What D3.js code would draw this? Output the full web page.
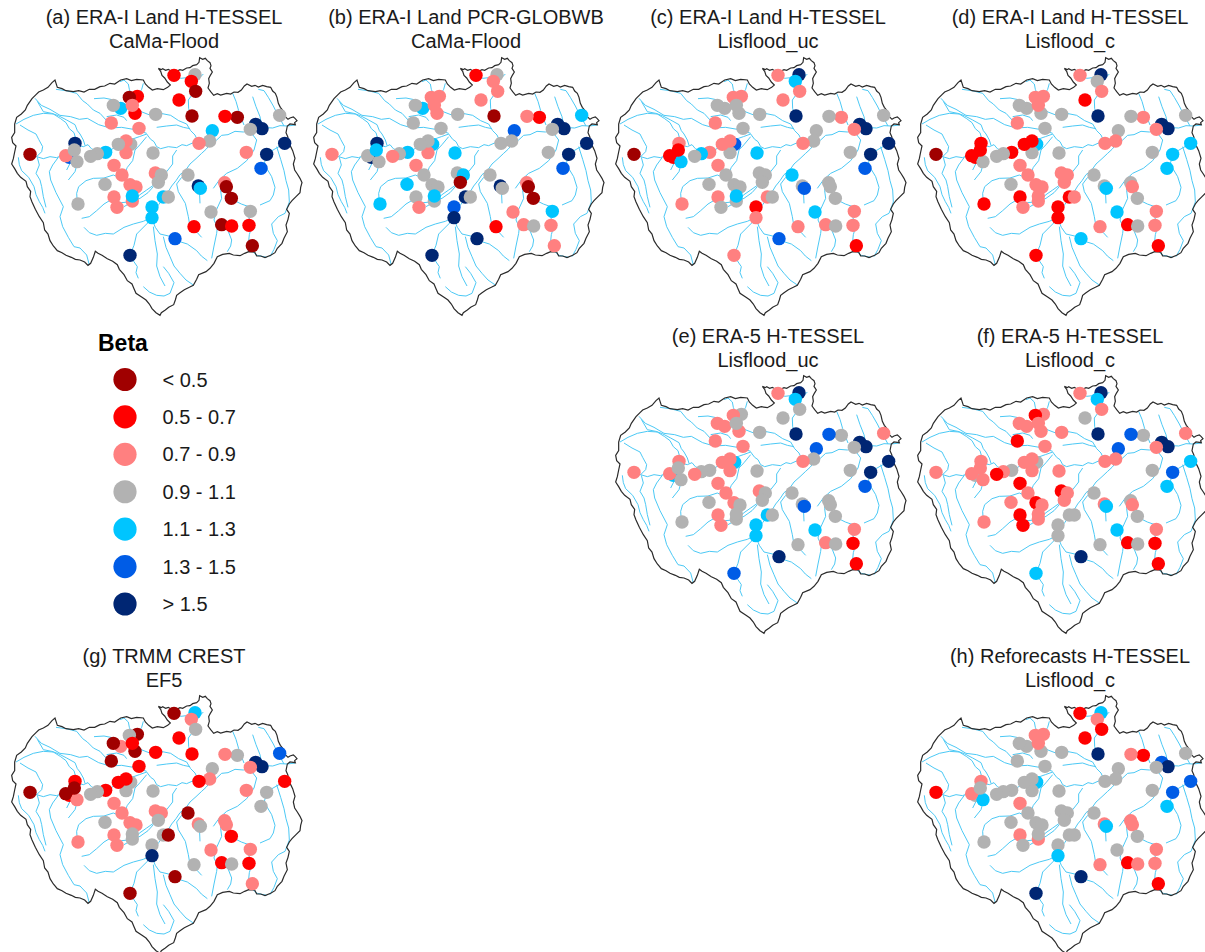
<!DOCTYPE html>
<html>
<head>
<meta charset="utf-8">
<style>
  html, body { margin: 0; background: #fff; }
  svg { display: block; font-family: "Liberation Sans", Arial, sans-serif; }
  text { fill: #1a1a1a; }
</style>
</head>
<body>
<div id="chart"></div>
<script src="https://cdnjs.cloudflare.com/ajax/libs/d3/7.8.5/d3.min.js"></script>
<script>
const width = 1205,
  height = 952;

// beta classes
const classBreaks = [0.5, 0.7, 0.9, 1.1, 1.3, 1.5];
const classColors = ['#a00000', '#ff0000', '#ff8080', '#b2b2b2', '#00c5ff', '#005ce6', '#002673'];
const classLabels = ['< 0.5', '0.5 - 0.7', '0.7 - 0.9', '0.9 - 1.1', '1.1 - 1.3', '1.3 - 1.5', '> 1.5'];
const legendBeta = [0.4, 0.6, 0.8, 1.0, 1.2, 1.4, 1.6];

// gauge stations, map sheet coordinates (east, south)
const stationEast = [
  522, 585, 574, 587, 537, 576,
  362, 340, 412, 388, 405, 397, 334, 417, 467,
  392, 378, 378, 355, 317, 292, 272, 459,
  90, 225, 208, 231, 197, 223,
  342, 366, 315, 390, 408, 342, 351, 397, 397, 234,
  466, 484, 475, 490, 505, 456, 456,
  564, 595, 601, 633, 582, 665, 695, 747, 751, 757,
  525, 390, 674, 679, 694,
  739, 783, 800, 854, 839, 767, 786, 751, 712, 675, 637, 629, 597
];
const stationSouth = [
  226, 224, 244, 274, 300, 348,
  325, 316, 289, 292, 340, 316, 369, 385, 343,
  433, 458, 423, 433, 457, 461, 469, 459,
  463, 430, 472, 485, 467, 450,
  496, 525, 553, 554, 561, 591, 622, 603, 588, 612,
  519, 525, 547, 591, 591, 621, 653,
  525, 558, 565, 636, 680, 674, 678, 676, 634, 737,
  716, 766, 548, 560, 595,
  457, 505, 463, 430, 346, 373, 386, 388, 352, 349, 392, 423, 430
];

// beta per station (class middle)
const betaA = [
  0.6, 1.0, 0.6, 0.4, 0.6, 0.4,
  1.2, 1.0, 0.6, 0.4, 0.6, 0.8, 0.8, 0.8, 1.0,
  1.0, 0.8, 0.8, 1.0, 1.2, 1.0, 1.0, 1.0,
  0.4, 1.6, 1.4, 1.0, 0.8, 1.0,
  0.8, 0.8, 1.0, 0.8, 0.8, 0.8, 0.8, 0.8, 1.2, 1.0,
  0.8, 1.0, 1.0, 1.2, 1.0, 1.2, 1.2,
  1.0, 1.6, 1.2, 1.0, 0.6, 0.4, 0.6, 0.6, 1.0, 0.4,
  1.4, 1.6, 0.8, 0.4, 0.4,
  0.8, 1.4, 1.6, 1.6, 1.0, 1.6, 1.6, 1.0, 0.4, 0.6, 1.2, 1.0, 0.8
];
const betaB = [
  0.6, 1.0, 0.8, 0.8, 0.8, 0.4,
  1.2, 1.0, 0.8, 0.8, 0.8, 0.8, 1.0, 1.0, 1.0,
  1.2, 0.8, 1.0, 1.0, 1.2, 1.0, 0.8, 1.2,
  0.8, 1.6, 1.6, 1.0, 1.0, 1.2,
  0.8, 1.0, 1.2, 1.0, 1.0, 1.0, 0.8, 1.0, 1.2, 1.2,
  1.0, 1.2, 0.4, 1.6, 1.0, 1.4, 1.6,
  1.0, 1.6, 1.0, 0.8, 0.6, 0.8, 1.0, 0.8, 1.2, 0.8,
  1.6, 1.6, 0.8, 0.4, 0.4,
  1.0, 1.4, 1.6, 1.6, 1.2, 1.6, 1.6, 1.0, 0.6, 0.8, 1.4, 1.0, 1.0
];
const betaC = [
  0.8, 1.6, 1.2, 0.8, 0.8, 1.6,
  1.0, 1.0, 0.8, 0.8, 1.0, 1.0, 0.8, 1.0, 1.0,
  1.4, 1.0, 0.8, 0.8, 0.8, 1.2, 1.0, 1.2,
  0.4, 0.8, 0.6, 1.2, 0.6, 0.6,
  0.8, 1.0, 1.0, 1.0, 1.0, 0.8, 1.0, 1.0, 1.2, 0.8,
  1.0, 1.0, 1.0, 0.8, 1.0, 0.6, 0.8,
  1.2, 1.0, 1.4, 1.2, 0.8, 0.8, 1.0, 0.8, 0.8, 0.6,
  1.4, 0.8, 1.0, 1.0, 1.0,
  1.0, 1.4, 1.6, 1.6, 1.0, 1.6, 1.6, 0.8, 0.8, 1.0, 1.0, 1.0, 0.8
];
const betaD = [
  0.8, 1.6, 1.0, 0.8, 0.6, 1.6,
  1.0, 1.0, 0.8, 0.8, 1.0, 0.8, 0.8, 1.0, 1.0,
  1.2, 1.0, 0.6, 0.6, 0.6, 1.0, 1.0, 1.0,
  0.4, 0.6, 0.6, 1.0, 0.6, 0.6,
  0.8, 0.8, 1.0, 0.8, 0.8, 0.6, 0.8, 0.8, 0.8, 0.6,
  0.8, 0.8, 0.8, 0.6, 0.8, 0.6, 0.6,
  1.0, 1.0, 1.2, 1.2, 0.8, 0.6, 1.0, 0.8, 0.8, 0.6,
  1.2, 0.6, 1.0, 0.8, 1.0,
  1.0, 1.2, 1.2, 1.2, 1.0, 1.6, 1.6, 0.8, 0.8, 1.0, 1.0, 0.8, 0.8
];
const betaE = [
  0.8, 1.6, 1.2, 1.0, 1.0, 1.6,
  0.8, 0.8, 1.0, 0.8, 0.8, 1.0, 0.8, 0.8, 1.0,
  1.2, 0.8, 0.8, 0.8, 1.0, 1.0, 0.8, 1.0,
  0.8, 0.8, 1.2, 1.0, 0.8, 1.0,
  0.8, 0.8, 1.0, 0.8, 1.0, 0.8, 0.8, 1.0, 1.0, 1.0,
  0.8, 1.0, 1.0, 1.2, 1.0, 1.2, 1.2,
  1.0, 1.0, 1.4, 1.2, 1.0, 0.8, 1.0, 0.6, 0.8, 0.6,
  1.6, 1.4, 1.0, 1.0, 1.0,
  1.0, 1.4, 1.6, 1.6, 0.8, 1.6, 1.6, 1.0, 1.0, 1.4, 1.4, 1.0, 0.8
];
const betaF = [
  0.8, 1.6, 1.2, 0.8, 1.0, 1.6,
  0.8, 0.8, 0.8, 0.6, 0.8, 0.8, 0.6, 0.8, 0.8,
  1.0, 0.8, 0.8, 0.8, 1.0, 0.8, 0.6, 0.8,
  0.8, 0.8, 1.0, 0.8, 0.8, 0.8,
  0.6, 0.8, 0.8, 0.6, 0.8, 0.6, 0.6, 0.8, 0.8, 0.8,
  0.6, 0.8, 0.8, 1.0, 1.0, 1.0, 1.0,
  1.0, 0.8, 1.2, 1.2, 1.0, 0.6, 1.0, 0.6, 0.8, 0.6,
  1.6, 1.2, 1.0, 0.8, 1.0,
  1.0, 1.2, 1.4, 1.2, 0.8, 1.6, 1.6, 0.8, 1.0, 1.4, 1.4, 0.8, 0.8
];
const betaG = [
  0.4, 1.2, 0.8, 1.0, 0.6, 0.6,
  0.8, 0.4, 0.4, 1.0, 0.4, 0.6, 0.4, 0.6, 0.6,
  1.0, 1.0, 0.6, 0.6, 0.6, 1.0, 1.0, 1.0,
  0.4, 0.6, 0.6, 0.8, 0.4, 0.4,
  0.8, 0.8, 1.0, 0.8, 0.8, 0.8, 0.8, 1.0, 1.0, 0.8,
  0.8, 0.8, 1.0, 1.0, 0.4, 1.0, 1.6,
  0.4, 0.8, 1.0, 0.8, 1.0, 0.6, 1.0, 0.6, 0.8, 0.8,
  0.4, 0.4, 0.8, 0.8, 0.6,
  0.8, 1.0, 1.0, 0.6, 1.4, 1.6, 1.6, 0.8, 1.0, 0.8, 1.0, 0.8, 0.6
];
const betaH = [
  0.6, 1.2, 0.8, 0.6, 0.6, 1.6,
  1.0, 1.0, 0.8, 0.8, 1.0, 0.8, 1.0, 1.0, 1.0,
  1.2, 1.0, 1.0, 1.0, 1.0, 1.0, 1.0, 1.0,
  0.6, 0.8, 1.0, 1.2, 0.8, 1.0,
  0.8, 1.0, 1.0, 1.0, 1.0, 0.8, 1.0, 0.8, 1.0, 1.0,
  1.0, 1.0, 1.0, 1.0, 1.0, 1.0, 1.2,
  1.0, 0.8, 1.2, 1.0, 0.8, 0.6, 0.8, 0.8, 0.8, 0.6,
  1.6, 1.6, 0.8, 0.8, 1.0,
  1.0, 1.2, 1.4, 1.4, 1.0, 1.4, 1.6, 1.0, 0.6, 0.8, 1.0, 1.0, 1.0
];

const panelNames = ['a', 'b', 'c', 'd', 'e', 'f', 'g', 'h'];
const panelTitles = [
  ['(a) ERA-I Land H-TESSEL', 'CaMa-Flood'],
  ['(b) ERA-I Land PCR-GLOBWB', 'CaMa-Flood'],
  ['(c) ERA-I Land H-TESSEL', 'Lisflood_uc'],
  ['(d) ERA-I Land H-TESSEL', 'Lisflood_c'],
  ['(e) ERA-5 H-TESSEL', 'Lisflood_uc'],
  ['(f) ERA-5 H-TESSEL', 'Lisflood_c'],
  ['(g) TRMM CREST', 'EF5'],
  ['(h) Reforecasts H-TESSEL', 'Lisflood_c']
];
const panelBeta = [betaA, betaB, betaC, betaD, betaE, betaF, betaG, betaH];
const panelCol = [0, 1, 2, 3, 2, 3, 0, 3];
const panelRow = [0, 0, 0, 0, 1, 1, 2, 2];

// basin boundary, map sheet coordinates
const basinOutline = [
  [475, 205], [484, 209], [488, 206], [497, 211], [505, 208], [512, 212], [522, 210], [530, 214], [540, 209], [548, 211], [560, 204], [570, 203], [578, 197], [590, 194], [597, 187], [599, 173],
  [608, 178], [616, 175], [622, 182], [630, 188], [633, 197], [630, 205], [637, 216], [631, 226], [626, 236], [628, 250], [624, 264], [632, 275], [641, 286], [652, 281], [662, 285],
  [680, 280], [692, 282], [702, 276], [714, 277], [724, 270], [733, 258], [741, 252], [755, 259], [765, 256], [775, 261], [788, 256], [800, 260], [812, 262], [818, 273], [826, 280], [831, 292],
  [835, 310], [841, 322], [850, 333], [856, 350], [864, 358], [870, 354], [880, 351], [885, 355], [891, 362], [884, 368], [886, 374], [870, 372], [862, 378], [858, 398], [864, 412], [862, 426],
  [872, 440], [878, 452], [885, 475], [880, 492], [884, 510], [892, 522], [900, 535], [906, 548], [902, 562], [900, 578], [888, 590], [876, 602], [868, 612], [860, 628], [868, 640], [864, 658],
  [858, 675], [862, 695], [852, 715], [846, 730], [832, 745], [825, 758], [812, 766], [795, 773], [782, 768], [770, 768], [764, 756], [746, 755], [734, 760], [720, 767], [700, 765],
  [688, 760], [668, 763], [652, 770], [642, 790], [630, 805], [618, 815], [596, 824], [590, 838], [580, 856], [568, 862], [553, 869], [540, 878], [530, 886], [526, 900], [521, 914],
  [506, 922], [496, 930], [484, 938], [480, 946], [468, 938], [456, 926], [448, 912], [438, 900], [426, 892], [408, 880], [402, 866], [396, 852], [382, 842], [372, 824], [358, 808], [352, 794],
  [338, 784], [322, 776], [306, 766], [294, 760], [286, 754], [280, 772], [272, 790], [264, 796], [254, 786], [240, 780], [226, 778], [214, 772], [198, 766], [186, 758], [172, 752], [160, 738], [150, 722],
  [144, 702], [134, 690], [130, 668], [118, 650], [106, 628], [96, 606], [90, 590], [92, 574], [82, 560], [78, 544], [62, 532], [52, 520], [44, 506], [35, 492], [40, 476], [44, 456], [48, 438],
  [38, 428], [35, 412], [44, 398], [44, 372], [50, 352], [64, 342], [76, 330], [82, 316], [96, 296], [108, 284], [116, 276], [130, 270], [144, 262], [156, 248], [165, 240], [172, 262], [186, 266],
  [198, 272], [220, 275], [236, 272], [252, 276], [268, 268], [284, 268], [300, 260], [314, 258], [330, 250], [344, 252], [362, 240], [380, 236], [394, 242], [410, 238], [430, 240], [436, 252], [446, 262],
  [457, 270], [472, 266], [490, 269], [503, 262], [511, 255], [502, 246], [494, 234], [486, 226], [482, 214], [475, 205]
];

const riverLines = [
  // main stem and mouth
  [[886, 375], [862, 378], [840, 377], [818, 384], [800, 383], [778, 390], [755, 390], [730, 396], [705, 394], [684, 404], [665, 406], [650, 420], [635, 428], [618, 448], [605, 460], [588, 476], [570, 492], [556, 512], [540, 524], [528, 542], [515, 558], [503, 578], [490, 594], [476, 614], [465, 628], [455, 655]],
  [[90, 463], [110, 470], [130, 476], [150, 470], [170, 473], [190, 464], [205, 460], [222, 446], [238, 437], [250, 440], [264, 434], [274, 446], [282, 450], [300, 448], [320, 456], [342, 444], [360, 440], [378, 426], [395, 418], [418, 410], [440, 402], [452, 418], [462, 425], [470, 440], [482, 446], [505, 440], [530, 443], [546, 434], [560, 437], [580, 428], [600, 430]],
  // north west
  [[105, 295], [124, 316], [150, 328], [180, 346], [212, 350], [238, 358], [262, 355], [296, 374], [330, 384], [365, 382], [400, 388], [422, 394], [440, 400]],
  [[112, 304], [130, 335], [155, 340], [175, 347], [200, 360], [225, 374], [232, 392], [240, 402], [250, 420], [255, 436]],
  [[168, 268], [198, 272], [230, 280], [248, 302], [262, 312], [280, 330], [300, 340], [320, 362], [340, 378]],
  [[48, 372], [72, 358], [100, 346], [130, 340], [160, 342], [182, 356], [198, 368], [208, 386], [222, 398], [226, 412], [228, 430]],
  [[60, 375], [84, 390], [108, 402], [116, 418], [128, 440], [125, 455], [110, 470]],
  [[282, 296], [312, 294], [342, 300], [372, 314], [400, 322], [426, 336], [452, 346], [482, 340], [512, 346], [536, 362], [560, 372], [572, 392], [585, 405], [592, 420], [600, 430]],
  [[360, 245], [372, 240], [385, 252], [388, 268], [395, 285]],
  [[430, 250], [425, 268], [412, 289]],
  [[470, 382], [500, 378], [530, 375], [550, 382], [570, 386]],
  [[320, 350], [350, 345], [372, 352], [380, 362]],
  // north notch
  [[522, 226], [542, 235], [560, 233], [575, 241], [590, 240], [600, 232], [610, 222]],
  [[574, 350], [566, 326], [565, 300], [578, 282], [590, 265]],
  // west side
  [[55, 472], [58, 494], [65, 512], [86, 532], [102, 560], [108, 584], [118, 605], [128, 622], [135, 640]],
  [[112, 472], [118, 495], [108, 520], [120, 540], [125, 560], [130, 590], [138, 622]],
  [[175, 472], [158, 495], [148, 515], [152, 540], [168, 578], [190, 620], [180, 650], [188, 680], [205, 712], [222, 740], [240, 744], [260, 765], [268, 795]],
  [[208, 472], [210, 490], [200, 510]],
  [[232, 490], [225, 515], [205, 540]],
  // central tributaries
  [[232, 610], [230, 580], [236, 560], [258, 542], [280, 535], [312, 534], [340, 525], [356, 532], [370, 530], [382, 502], [398, 482], [405, 450], [420, 434], [440, 410]],
  [[245, 655], [268, 650], [290, 632], [312, 612], [332, 600], [364, 608], [397, 605], [420, 584], [440, 570], [460, 556], [478, 540], [500, 515], [518, 492], [518, 468], [530, 450]],
  [[252, 682], [268, 698], [290, 706], [316, 700], [340, 702], [372, 682], [400, 672], [430, 664], [455, 652]],
  [[372, 620], [396, 606], [420, 595], [444, 578], [460, 560]],
  // south
  [[388, 770], [402, 736], [410, 702], [428, 684], [450, 662]],
  [[455, 655], [466, 682], [480, 702], [506, 708], [530, 722], [562, 732], [590, 752], [604, 768], [622, 782]],
  [[460, 680], [465, 722], [472, 762], [470, 798], [480, 830], [495, 858]],
  [[490, 710], [498, 742], [510, 770], [522, 798], [540, 820], [558, 840], [580, 855]],
  [[395, 775], [412, 800], [408, 818], [415, 835]],
  [[430, 860], [448, 876], [470, 886], [492, 888], [510, 880], [522, 848], [506, 820], [490, 800]],
  // east
  [[545, 532], [530, 552], [535, 575], [556, 610], [565, 650], [570, 680]],
  [[598, 565], [600, 610]],
  [[582, 680], [592, 698], [605, 712]],
  [[640, 565], [658, 540], [680, 520], [712, 505], [740, 482], [762, 450], [770, 420], [758, 404], [762, 388]],
  [[662, 550], [662, 572], [665, 595], [650, 628], [642, 660], [652, 682], [650, 700], [642, 738], [635, 775]],
  [[700, 600], [724, 612], [752, 622], [746, 650], [755, 680], [748, 704], [745, 732], [754, 752], [772, 766], [800, 772]],
  [[668, 680], [684, 692], [695, 720], [692, 738], [682, 755]],
  [[800, 505], [815, 530], [825, 562], [820, 585], [810, 602], [780, 615]],
  [[854, 430], [828, 445], [802, 460], [790, 500]],
  [[830, 440], [842, 478], [852, 512], [858, 542], [866, 570], [868, 606], [855, 640], [835, 650], [815, 672], [820, 700], [832, 722], [822, 748], [810, 770]],
  [[758, 290], [768, 320], [780, 350], [786, 382]],
  [[698, 280], [708, 304], [716, 332], [722, 350], [732, 375]],
  [[775, 268], [792, 272], [805, 292], [820, 318], [832, 342], [852, 378]]
];

const svg = d3.select('#chart').append('svg').attr('width', width).attr('height', height);

// one sheet unit is a third of a pixel
const sheetX = d3.scaleLinear().domain([0, 930]).range([0, 310]);
const sheetY = d3.scaleLinear().domain([0, 960]).range([0, 320]);
const colX = d3.scaleLinear().domain([0, 3]).range([0, 906]);
const rowY = d3.scaleOrdinal().domain([0, 1, 2]).range([0, 318, 638]);
const titleX = [164, 466, 768, 1070];
const titleY = [24, 343, 663];
const betaColor = d3.scaleThreshold().domain(classBreaks).range(classColors);

const line = d3.line().x(d => sheetX(d[0])).y(d => sheetY(d[1]));

panelNames.forEach((name, i) => {
  const g = svg
    .append('g')
    .attr('class', 'panel panel-' + name)
    .attr('transform', `translate(${colX(panelCol[i])},${rowY(panelRow[i])})`);

  g.selectAll('.river')
    .data(riverLines)
    .join('path')
    .attr('class', 'river')
    .attr('d', line)
    .attr('fill', 'none')
    .attr('stroke', '#4cc9f5')
    .attr('stroke-width', 1);

  g.append('path')
    .datum(basinOutline)
    .attr('class', 'basin')
    .attr('d', line)
    .attr('fill', 'none')
    .attr('stroke', '#2b2b2b')
    .attr('stroke-width', 1.2);

  g.selectAll('.station')
    .data(panelBeta[i])
    .join('circle')
    .attr('class', 'station')
    .attr('cx', (d, j) => sheetX(stationEast[j]))
    .attr('cy', (d, j) => sheetY(stationSouth[j]))
    .attr('r', 6.7)
    .attr('fill', d => betaColor(d));

  const title = svg
    .append('text')
    .attr('text-anchor', 'middle')
    .attr('font-size', 20);
  panelTitles[i].forEach((t, k) => {
    title
      .append('tspan')
      .attr('x', titleX[panelCol[i]])
      .attr('y', titleY[panelRow[i]] + k * 23.5)
      .text(t);
  });
});

// legend
const legendY = d3.scalePoint().domain(legendBeta).range([379.5, 604]);

svg
  .append('text')
  .attr('x', 98)
  .attr('y', 351)
  .attr('font-size', 23)
  .attr('font-weight', 'bold')
  .style('fill', '#000')
  .text('Beta');

svg
  .selectAll('.legend-dot')
  .data(legendBeta)
  .join('circle')
  .attr('class', 'legend-dot')
  .attr('cx', 125)
  .attr('cy', d => legendY(d))
  .attr('r', 11.6)
  .attr('fill', d => betaColor(d));

svg
  .selectAll('.legend-label')
  .data(legendBeta)
  .join('text')
  .attr('class', 'legend-label')
  .attr('x', 162.5)
  .attr('y', d => legendY(d) + 7)
  .attr('font-size', 20)
  .text((d, i) => classLabels[i]);
</script>
</body>
</html>
